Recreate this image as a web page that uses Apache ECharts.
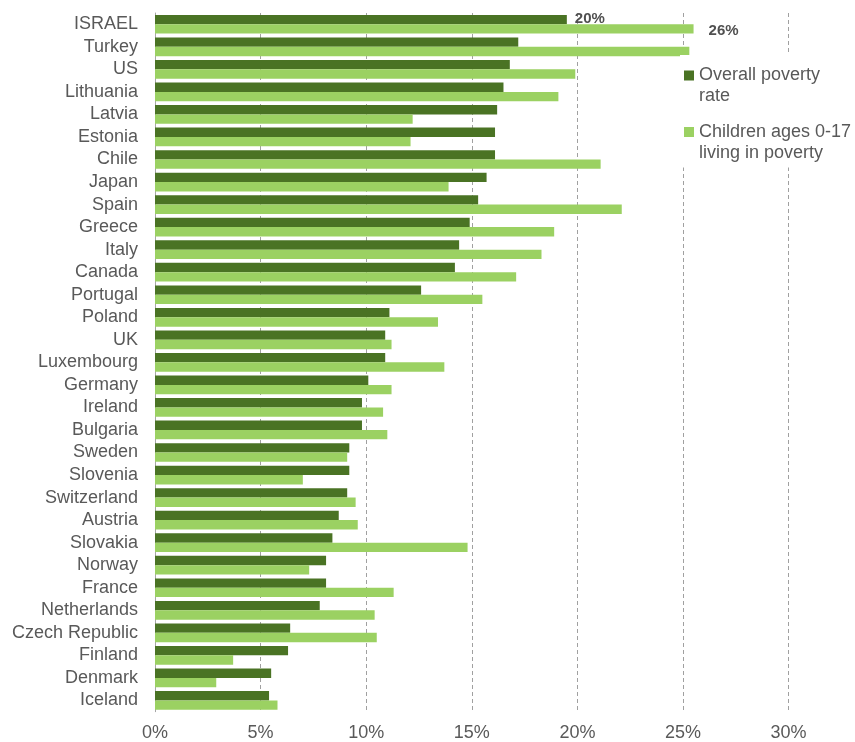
<!DOCTYPE html>
<html>
<head>
<meta charset="utf-8">
<script src="https://cdn.jsdelivr.net/npm/echarts@6/dist/echarts.min.js"></script>
<style>html,body{margin:0;padding:0;background:#fff;}#c{width:855px;height:742px;}</style>
</head>
<body>
<div id="c"></div>
<script>
const countries = ["ISRAEL","Turkey","US","Lithuania","Latvia","Estonia","Chile","Japan","Spain","Greece","Italy","Canada","Portugal","Poland","UK","Luxembourg","Germany","Ireland","Bulgaria","Sweden","Slovenia","Switzerland","Austria","Slovakia","Norway","France","Netherlands","Czech Republic","Finland","Denmark","Iceland"];
const overallRate = [19.5,17.2,16.8,16.5,16.2,16.1,16.1,15.7,15.3,14.9,14.4,14.2,12.6,11.1,10.9,10.9,10.1,9.8,9.8,9.2,9.2,9.1,8.7,8.4,8.1,8.1,7.8,6.4,6.3,5.5,5.4];
const childrenRate = [25.5,25.3,19.9,19.1,12.2,12.1,21.1,13.9,22.1,18.9,18.3,17.1,15.5,13.4,11.2,13.7,11.2,10.8,11.0,9.1,7.0,9.5,9.6,14.8,7.3,11.3,10.4,10.5,3.7,2.9,5.8];
const seriesNames = ["Overall poverty\nrate", "Children ages 0-17\nliving in poverty"];
const highlightLabels = ["20%", "26%"];
const xTicks = [0, 5, 10, 15, 20, 25, 30];

const FONT = "Liberation Sans, Arial, sans-serif";
const DARK = "#4a7324";
const LIGHT = "#9bd162";
const TXT = "#595959";

function withLabel(arr, text, dist, dy) {
  return arr.map((v, i) => i === 0 ? {
    value: v,
    label: { show: true, position: "right", distance: dist, offset: [0, dy], formatter: text,
      fontFamily: FONT, fontSize: 15, fontWeight: "bold", color: "#505050" }
  } : v);
}

const chart = echarts.init(document.getElementById("c"), null, { renderer: "canvas" });
const legendIcon = "path://M0,0h10v10h-10z M0,31h0.01v0.01h-0.01z";
chart.setOption({
  animation: false,
  backgroundColor: "#fff",
  grid: { left: 155, right: 66.4, top: 13, bottom: 30.3, containLabel: false },
  legend: {
    orient: "vertical",
    left: 680, top: 55,
    padding: [10, 4, 4, 4],
    backgroundColor: "#fff",
    itemWidth: 10, itemHeight: 31, itemGap: 14.5,
    data: [
      { name: seriesNames[0], icon: legendIcon },
      { name: seriesNames[1], icon: legendIcon }
    ],
    textStyle: { fontFamily: FONT, fontSize: 18, lineHeight: 21, color: TXT },
    selectedMode: false
  },
  xAxis: {
    type: "value", min: xTicks[0], max: xTicks[xTicks.length - 1], interval: 5,
    axisLine: { show: false }, axisTick: { show: false },
    axisLabel: { formatter: "{value}%", fontFamily: FONT, fontSize: 18, color: TXT, margin: 12 },
    splitLine: { show: true, lineStyle: { type: [4, 3], color: "#a0a0a0", width: 1 } }
  },
  yAxis: {
    type: "category", data: countries, inverse: true,
    axisLine: { show: true, lineStyle: { color: "#a6a6a6", width: 1 } },
    axisTick: { show: false },
    axisLabel: { fontFamily: FONT, fontSize: 18, color: TXT, margin: 17, interval: 0 }
  },
  series: [
    { name: seriesNames[0], type: "bar", data: withLabel(overallRate, highlightLabels[0], 8, -1),
      barGap: "0%", barCategoryGap: "17%", itemStyle: { color: DARK } },
    { name: seriesNames[1], type: "bar", data: withLabel(childrenRate, highlightLabels[1], 15, 2),
      barGap: "0%", barCategoryGap: "17%", itemStyle: { color: LIGHT } }
  ]
});
</script>
</body>
</html>
